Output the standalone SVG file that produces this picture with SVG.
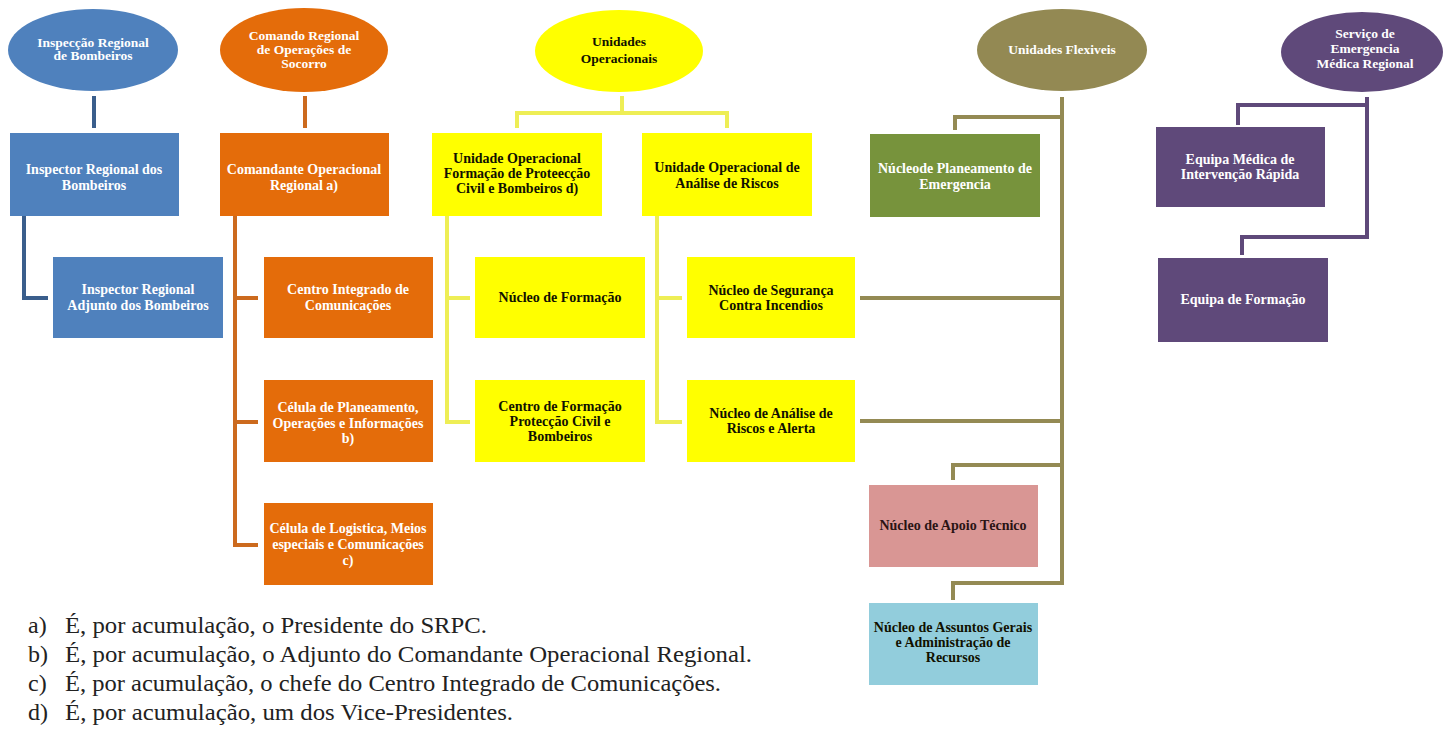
<svg xmlns="http://www.w3.org/2000/svg" width="1445" height="731" viewBox="0 0 1445 731">
<style>
text{font-family:'Liberation Serif','DejaVu Serif','Times New Roman',serif;text-anchor:middle}
.n{font-size:14px;font-weight:bold}
.e{font-size:13.5px;font-weight:bold}
.w{fill:#ffffff}
.k{fill:#111100}
.m{fill:#2a1414}
.c{fill:none;stroke-width:4;stroke-linecap:butt;stroke-linejoin:miter}
.fn{font-size:24px;fill:#222;text-anchor:start}
</style>
<rect width="1445" height="731" fill="#ffffff"/>
<g id="connectors">
<path class="c" stroke="#3a5e8c" d="M94,96 V128 M24,216 V298 H48"/>
<path class="c" stroke="#cc6a1e" d="M305,96 V128 M235,216 V545 H258 M235,298 H258 M235,422 H258"/>
<path class="c" stroke="#eeee55" d="M622,96 V113 M517,128 V113 H727 V128 M447,216 V422 H470 M447,298 H470 M657,216 V422 H682 M657,298 H682"/>
<path class="c" stroke="#948a54" d="M1062,97 V583 H953 V600 M1062,117 H955 V130 M860,298 H1062 M860,421 H1062 M1062,465 H953 V480"/>
<path class="c" stroke="#5f497a" d="M1367,97 V237 H1242 V255 M1367,105 H1238 V125"/>
</g>
<g id="e-inspeccao">
<ellipse cx="93" cy="50" rx="85" ry="41" fill="#4f81bd"/>
<text class="e w" x="93" y="47">Inspecção Regional</text>
<text class="e w" x="93" y="60">de Bombeiros</text>
</g>
<g id="e-comando">
<ellipse cx="304" cy="50" rx="84" ry="42" fill="#e46c0a"/>
<text class="e w" x="304" y="40">Comando Regional</text>
<text class="e w" x="304" y="54">de Operações de</text>
<text class="e w" x="304" y="68">Socorro</text>
</g>
<g id="e-unidades">
<ellipse cx="619" cy="51" rx="84" ry="41" fill="#ffff00"/>
<text class="e k" x="619" y="46">Unidades</text>
<text class="e k" x="619" y="63">Operacionais</text>
</g>
<g id="e-flexiveis">
<ellipse cx="1062" cy="50" rx="85" ry="41" fill="#938953"/>
<text class="e w" x="1062" y="54">Unidades Flexiveis</text>
</g>
<g id="e-sem">
<ellipse cx="1362" cy="52" rx="81" ry="40" fill="#5f497a"/>
<text class="e w" x="1365" y="38">Serviço de</text>
<text class="e w" x="1365" y="53">Emergencia</text>
<text class="e w" x="1365" y="68">Médica Regional</text>
</g>
<g id="b-inspector">
<rect x="10" y="133" width="169" height="83" fill="#4f81bd"/>
<text class="n w" x="94" y="174">Inspector Regional dos</text>
<text class="n w" x="94" y="190">Bombeiros</text>
</g>
<g id="b-comandante">
<rect x="220" y="133" width="169" height="83" fill="#e46c0a"/>
<text class="n w" x="304" y="174">Comandante Operacional</text>
<text class="n w" x="304" y="190">Regional a)</text>
</g>
<g id="b-uo-formacao">
<rect x="432" y="133" width="170" height="83" fill="#ffff00"/>
<text class="n k" x="517" y="163">Unidade Operacional</text>
<text class="n k" x="517" y="178">Formação de Proteecção</text>
<text class="n k" x="517" y="193">Civil e Bombeiros d)</text>
</g>
<g id="b-uo-riscos">
<rect x="642" y="133" width="170" height="83" fill="#ffff00"/>
<text class="n k" x="727" y="172">Unidade Operacional de</text>
<text class="n k" x="727" y="188">Análise de Riscos</text>
</g>
<g id="b-planeamento-emerg">
<rect x="870" y="134" width="170" height="83" fill="#77933c"/>
<text class="n w" x="955" y="173">Núcleode Planeamento de</text>
<text class="n w" x="955" y="189">Emergencia</text>
</g>
<g id="b-equipa-medica">
<rect x="1156" y="127" width="169" height="80" fill="#5f497a"/>
<text class="n w" x="1240" y="164">Equipa Médica de</text>
<text class="n w" x="1240" y="179">Intervenção Rápida</text>
</g>
<g id="b-inspector-adjunto">
<rect x="53" y="257" width="170" height="81" fill="#4f81bd"/>
<text class="n w" x="138" y="294">Inspector Regional</text>
<text class="n w" x="138" y="310">Adjunto dos Bombeiros</text>
</g>
<g id="b-centro-integrado">
<rect x="264" y="257" width="169" height="81" fill="#e46c0a"/>
<text class="n w" x="348" y="294">Centro Integrado de</text>
<text class="n w" x="348" y="310">Comunicações</text>
</g>
<g id="b-nucleo-formacao">
<rect x="475" y="257" width="170" height="81" fill="#ffff00"/>
<text class="n k" x="560" y="302">Núcleo de Formação</text>
</g>
<g id="b-nucleo-seguranca">
<rect x="687" y="257" width="168" height="81" fill="#ffff00"/>
<text class="n k" x="771" y="295">Núcleo de Segurança</text>
<text class="n k" x="771" y="310">Contra Incendios</text>
</g>
<g id="b-equipa-formacao">
<rect x="1158" y="258" width="170" height="84" fill="#5f497a"/>
<text class="n w" x="1243" y="304">Equipa de Formação</text>
</g>
<g id="b-celula-planeamento">
<rect x="264" y="380" width="169" height="82" fill="#e46c0a"/>
<text class="n w" x="348" y="412">Célula de Planeamento,</text>
<text class="n w" x="348" y="428">Operações e Informações</text>
<text class="n w" x="348" y="443">b)</text>
</g>
<g id="b-centro-formacao">
<rect x="475" y="380" width="170" height="82" fill="#ffff00"/>
<text class="n k" x="560" y="411">Centro de Formação</text>
<text class="n k" x="560" y="426">Protecção  Civil e</text>
<text class="n k" x="560" y="441">Bombeiros</text>
</g>
<g id="b-nucleo-analise">
<rect x="687" y="380" width="168" height="82" fill="#ffff00"/>
<text class="n k" x="771" y="418">Núcleo de Análise de</text>
<text class="n k" x="771" y="433">Riscos e Alerta</text>
</g>
<g id="b-celula-logistica">
<rect x="264" y="503" width="169" height="82" fill="#e46c0a"/>
<text class="n w" x="348" y="533">Célula de Logistica, Meios</text>
<text class="n w" x="348" y="549">especiais e Comunicações</text>
<text class="n w" x="348" y="565">c)</text>
</g>
<g id="b-apoio-tecnico">
<rect x="869" y="485" width="169" height="82" fill="#d99694"/>
<text class="n m" x="953" y="530">Núcleo de Apoio Técnico</text>
</g>
<g id="b-assuntos-gerais">
<rect x="869" y="603" width="169" height="82" fill="#92cddc"/>
<text class="n k" x="953" y="632">Núcleo de Assuntos Gerais</text>
<text class="n k" x="953" y="647">e Administração de</text>
<text class="n k" x="953" y="662">Recursos</text>
</g>
<g id="footnotes">
<text class="fn" x="28" y="633">a)</text>
<text class="fn" x="65" y="633" textLength="422" lengthAdjust="spacingAndGlyphs">É, por acumulação, o Presidente do SRPC.</text>
<text class="fn" x="28" y="662">b)</text>
<text class="fn" x="65" y="662" textLength="687" lengthAdjust="spacingAndGlyphs">É, por acumulação, o Adjunto do Comandante Operacional Regional.</text>
<text class="fn" x="28" y="691">c)</text>
<text class="fn" x="65" y="691" textLength="656" lengthAdjust="spacingAndGlyphs">É, por acumulação, o chefe do Centro Integrado de Comunicações.</text>
<text class="fn" x="28" y="720">d)</text>
<text class="fn" x="65" y="720" textLength="448" lengthAdjust="spacingAndGlyphs">É, por acumulação, um dos Vice-Presidentes.</text>
</g>
</svg>
